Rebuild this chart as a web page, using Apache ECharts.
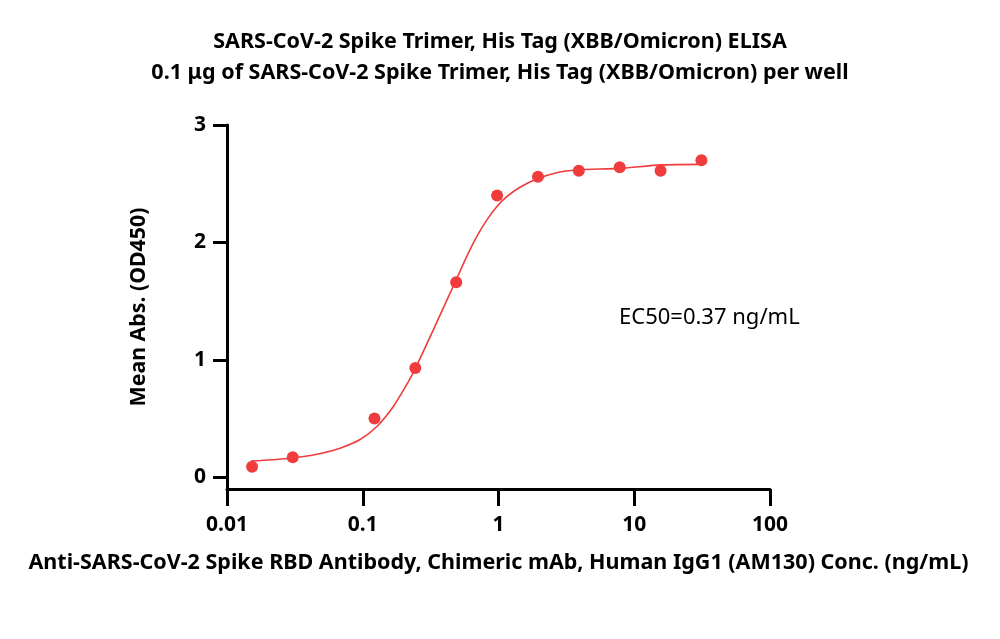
<!DOCTYPE html>
<html>
<head>
<meta charset="utf-8">
<script src="https://cdn.jsdelivr.net/npm/echarts@6/dist/echarts.min.js"></script>
<style>
  html, body { margin: 0; padding: 0; background: #fff; }
  #chart { width: 1000px; height: 639px; }
</style>
</head>
<body>
<div id="chart"></div>
<script>
// 测量点（浓度 ng/mL, OD450）
const pointX = [0.0153, 0.0305, 0.122, 0.244, 0.488, 0.977, 1.953, 3.906, 7.813, 15.625, 31.25];
const pointY = [0.09, 0.17, 0.50, 0.93, 1.66, 2.40, 2.56, 2.61, 2.64, 2.61, 2.70];

// 拟合曲线
const curveX = [0.015, 0.022, 0.0345, 0.048, 0.068, 0.095, 0.127, 0.168, 0.217, 0.243, 0.331, 0.487, 0.583, 0.691, 0.819, 0.97, 1.15, 1.44, 1.91, 2.68, 3.77, 7.85, 15.9, 31.25];
const curveY = [0.138, 0.149, 0.172, 0.20, 0.248, 0.319, 0.432, 0.603, 0.815, 0.923, 1.255, 1.68, 1.879, 2.049, 2.19, 2.304, 2.39, 2.47, 2.54, 2.594, 2.617, 2.631, 2.66, 2.665];

const yTicks = [0, 1, 2, 3];

const FONT = 'Noto Sans';
const RED = '#F03C3C';

const myChart = echarts.init(document.getElementById('chart'));
myChart.setOption({
	animation: false,
	title: {
		text: 'SARS-CoV-2 Spike Trimer, His Tag (XBB/Omicron) ELISA\n0.1 μg of SARS-CoV-2 Spike Trimer, His Tag (XBB/Omicron) per well',
		left: 'center',
		top: 21,
		textStyle: {
			fontFamily: FONT,
			fontWeight: 'bold',
			fontSize: 21.5,
			lineHeight: 31,
			color: '#000',
		},
	},
	grid: { left: 227, right: 230, top: 125, bottom: 150 },
	xAxis: {
		type: 'log',
		logBase: 10,
		min: 0.01,
		max: 100,
		name: 'Anti-SARS-CoV-2 Spike RBD Antibody, Chimeric mAb, Human IgG1 (AM130) Conc. (ng/mL)',
		nameLocation: 'middle',
		nameGap: 63,
		nameTextStyle: { fontFamily: FONT, fontWeight: 'bold', fontSize: 21.5, color: '#000' },
		axisLine: { onZero: false, lineStyle: { color: '#000', width: 3 } },
		axisTick: { length: 17, lineStyle: { color: '#000', width: 3 } },
		minorTick: { show: false },
		splitLine: { show: false },
		axisLabel: {
			margin: 26,
			fontFamily: FONT,
			fontWeight: 'bold',
			fontSize: 21,
			color: '#000',
			formatter: (v) => String(v),
		},
	},
	yAxis: {
		type: 'value',
		min: -0.1,
		max: 3,
		name: 'Mean Abs. (OD450)',
		nameLocation: 'middle',
		nameRotate: 90,
		nameGap: 78,
		nameTextStyle: { fontFamily: FONT, fontWeight: 'bold', fontSize: 21.3, color: '#000' },
		axisLine: { show: true, lineStyle: { color: '#000', width: 3 } },
		axisTick: { show: true, length: 14, customValues: yTicks, lineStyle: { color: '#000', width: 3 } },
		splitLine: { show: false },
		axisLabel: {
			margin: 21,
			customValues: yTicks,
			fontFamily: FONT,
			fontWeight: 'bold',
			fontSize: 21,
			color: '#000',
		},
	},
	graphic: [
		{
			type: 'text',
			left: 619,
			top: 307,
			style: {
				text: 'EC50=0.37 ng/mL',
				fontFamily: FONT,
				fontSize: 22,
				fill: '#000',
			},
		},
	],
	series: [
		{
			name: '拟合曲线',
			type: 'line',
			data: curveX.map((x, i) => [x, curveY[i]]),
			smooth: 0.3,
			showSymbol: false,
			lineStyle: { color: RED, width: 1.6 },
			z: 2,
		},
		{
			name: '测量值',
			type: 'scatter',
			data: pointX.map((x, i) => [x, pointY[i]]),
			symbolSize: 12,
			itemStyle: { color: RED, opacity: 1 },
			z: 3,
		},
	],
});
</script>
</body>
</html>
